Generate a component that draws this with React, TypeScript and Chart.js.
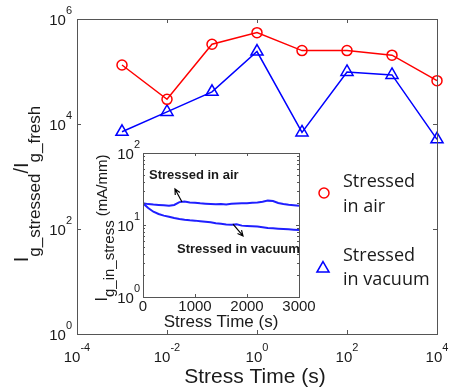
import React, { useEffect, useRef } from 'react';
import { Chart, registerables } from 'chart.js';

Chart.register(...registerables);

// ---------- main plot data ----------
const stressTimes = [1e-3, 1e-2, 1e-1, 1e0, 1e1, 1e2, 1e3, 1e4];
const ratioAir = [1.33e5, 2.95e4, 3.3e5, 5.5e5, 2.5e5, 2.5e5, 2.05e5, 6.7e4];
const ratioVacuum = [7.1e3, 1.7e4, 4.1e4, 2.4e5, 6.9e3, 9.8e4, 8.6e4, 5.1e3];
const mainXTickExps = [-4, -2, 0, 2, 4];
const mainYTickExps = [0, 2, 4, 6];
const legendLabels = [['Stressed', 'in air'], ['Stressed', 'in vacuum']];

// ---------- inset data ----------
const insetTimes = [0, 100, 200, 300, 400, 500, 600, 700, 800, 900, 1000, 1100, 1200, 1300, 1400, 1500,
  1600, 1700, 1800, 1900, 2000, 2100, 2200, 2300, 2400, 2500, 2600, 2700, 2800, 2900, 3000];
const insetAir = [20.0, 19.5, 19.2, 19.0, 18.8, 18.5, 19.0, 20.8, 21.2, 20.6, 20.3, 20.0, 19.8, 19.6, 19.4, 19.5,
  19.3, 19.7, 19.9, 20.1, 20.0, 20.3, 20.6, 21.0, 21.8, 21.5, 20.2, 19.6, 19.1, 18.8, 18.5];
const insetVacuum = [20.0, 17.2, 15.3, 14.2, 13.5, 13.0, 12.5, 12.1, 11.8, 11.6, 11.5, 11.3, 11.1, 10.9, 10.6, 10.4,
  10.2, 10.1, 10.2, 9.8, 9.7, 9.6, 9.5, 9.3, 9.1, 9.0, 8.9, 8.8, 8.7, 8.6, 8.5];
const insetXTicks = [0, 1000, 2000, 3000];
const insetYTickExps = [0, 1, 2];
const insetNotes = ['Stressed in air', 'Stressed in vacuum'];

const SANS = '"Liberation Sans", Arial, sans-serif';
const FRAME = '#555555';
const TEXT = '#1a1a1a';

function drawPow(ctx: CanvasRenderingContext2D, exp: number, x: number, baseline: number, align: 'center' | 'right') {
  const base = '10';
  const sup = String(exp);
  ctx.font = `15px ${SANS}`;
  const wb = ctx.measureText(base).width;
  ctx.font = `11px ${SANS}`;
  const ws = ctx.measureText(sup).width;
  const total = wb + ws;
  const start = align === 'center' ? x - total / 2 : x - total;
  ctx.textAlign = 'left';
  ctx.textBaseline = 'alphabetic';
  ctx.fillStyle = TEXT;
  ctx.font = `15px ${SANS}`;
  ctx.fillText(base, start, baseline);
  ctx.font = `11px ${SANS}`;
  ctx.fillText(sup, start + wb, baseline - 11);
}

type Run = { text: string; size: number; dy: number };

function drawRotatedRuns(ctx: CanvasRenderingContext2D, runs: Run[], baseX: number, cy: number) {
  ctx.save();
  let total = 0;
  const widths = runs.map((r) => {
    ctx.font = `${r.size}px ${SANS}`;
    const w = ctx.measureText(r.text).width;
    total += w;
    return w;
  });
  ctx.translate(baseX, cy);
  ctx.rotate(-Math.PI / 2);
  ctx.fillStyle = TEXT;
  ctx.textAlign = 'left';
  ctx.textBaseline = 'alphabetic';
  let x = -total / 2;
  runs.forEach((r, i) => {
    ctx.font = `${r.size}px ${SANS}`;
    ctx.fillText(r.text, x, r.dy);
    x += widths[i];
  });
  ctx.restore();
}

function drawArrow(ctx: CanvasRenderingContext2D, x1: number, y1: number, x2: number, y2: number) {
  ctx.save();
  ctx.strokeStyle = '#000';
  ctx.lineWidth = 1.2;
  ctx.beginPath();
  ctx.moveTo(x1, y1);
  ctx.lineTo(x2, y2);
  const a = Math.atan2(y2 - y1, x2 - x1);
  const L = 6;
  ctx.moveTo(x2 - L * Math.cos(a - 0.45), y2 - L * Math.sin(a - 0.45));
  ctx.lineTo(x2, y2);
  ctx.lineTo(x2 - L * Math.cos(a + 0.45), y2 - L * Math.sin(a + 0.45));
  ctx.stroke();
  ctx.restore();
}

const mainAxesPlugin = {
  id: 'mainAxes',
  afterDraw(chart: any) {
    const { ctx, chartArea: ca, scales } = chart;
    const xs = scales.x;
    const ys = scales.y;
    ctx.save();
    ctx.strokeStyle = FRAME;
    ctx.lineWidth = 1;
    ctx.strokeRect(Math.round(ca.left) + 0.5, Math.round(ca.top) + 0.5, Math.round(ca.right - ca.left), Math.round(ca.bottom - ca.top));
    const T = 4;
    ctx.beginPath();
    mainXTickExps.forEach((e) => {
      const px = Math.round(xs.getPixelForValue(Math.pow(10, e))) + 0.5;
      ctx.moveTo(px, ca.bottom);
      ctx.lineTo(px, ca.bottom - T);
      ctx.moveTo(px, ca.top);
      ctx.lineTo(px, ca.top + T);
    });
    mainYTickExps.forEach((e) => {
      const py = Math.round(ys.getPixelForValue(Math.pow(10, e))) + 0.5;
      ctx.moveTo(ca.left, py);
      ctx.lineTo(ca.left + T, py);
      ctx.moveTo(ca.right, py);
      ctx.lineTo(ca.right - T, py);
    });
    ctx.stroke();
    mainXTickExps.forEach((e) => {
      drawPow(ctx, e, xs.getPixelForValue(Math.pow(10, e)), ca.bottom + 28, 'center');
    });
    mainYTickExps.forEach((e) => {
      drawPow(ctx, e, ca.left - 5, ys.getPixelForValue(Math.pow(10, e)) + 6, 'right');
    });
    // x title
    ctx.font = `21px ${SANS}`;
    ctx.fillStyle = TEXT;
    ctx.textAlign = 'center';
    ctx.textBaseline = 'alphabetic';
    ctx.fillText('Stress Time (s)', (ca.left + ca.right) / 2 - 2, 383);
    // y title
    drawRotatedRuns(ctx, [
      { text: 'I', size: 20, dy: 0 },
      { text: 'g_stressed', size: 17, dy: 12 },
      { text: '/', size: 20, dy: 0 },
      { text: 'I', size: 20, dy: 0 },
      { text: 'g_fresh', size: 17, dy: 12 },
    ], 28, 184);
    // legend
    ctx.lineWidth = 1.5;
    ctx.strokeStyle = '#ff0000';
    ctx.beginPath();
    ctx.arc(324, 193, 5, 0, Math.PI * 2);
    ctx.stroke();
    ctx.strokeStyle = '#0000ff';
    ctx.beginPath();
    const tr = 7;
    const tcx = 323;
    const tcy = 268.5;
    ctx.moveTo(tcx, tcy - tr);
    ctx.lineTo(tcx + tr * Math.sin(2 * Math.PI / 3), tcy + tr / 2);
    ctx.lineTo(tcx - tr * Math.sin(2 * Math.PI / 3), tcy + tr / 2);
    ctx.closePath();
    ctx.stroke();
    ctx.fillStyle = TEXT;
    ctx.textAlign = 'left';
    ctx.font = '18px "Open Sans", sans-serif';
    ctx.fillText(legendLabels[0][0], 343, 187);
    ctx.fillText(legendLabels[0][1], 343, 212);
    ctx.fillText(legendLabels[1][0], 343, 261);
    ctx.fillText(legendLabels[1][1], 343, 285);
    ctx.restore();
  },
};

const insetAxesPlugin = {
  id: 'insetAxes',
  afterDraw(chart: any) {
    const { ctx, chartArea: ca, scales } = chart;
    const xs = scales.x;
    const ys = scales.y;
    ctx.save();
    ctx.strokeStyle = FRAME;
    ctx.lineWidth = 1;
    ctx.strokeRect(Math.round(ca.left) + 0.5, Math.round(ca.top) + 0.5, Math.round(ca.right - ca.left), Math.round(ca.bottom - ca.top));
    ctx.beginPath();
    insetXTicks.forEach((v) => {
      const px = Math.round(xs.getPixelForValue(v)) + 0.5;
      ctx.moveTo(px, ca.bottom);
      ctx.lineTo(px, ca.bottom - 3);
      ctx.moveTo(px, ca.top);
      ctx.lineTo(px, ca.top + 3);
    });
    for (let e = 0; e < 2; e++) {
      for (let m = 1; m <= 10; m++) {
        const v = m * Math.pow(10, e);
        const py = Math.round(ys.getPixelForValue(v)) + 0.5;
        const len = m === 1 || m === 10 ? 3 : 2;
        ctx.moveTo(ca.left, py);
        ctx.lineTo(ca.left + len, py);
        ctx.moveTo(ca.right, py);
        ctx.lineTo(ca.right - len, py);
      }
    }
    ctx.stroke();
    ctx.fillStyle = TEXT;
    ctx.font = `15px ${SANS}`;
    ctx.textAlign = 'center';
    ctx.textBaseline = 'alphabetic';
    insetXTicks.forEach((v) => {
      ctx.fillText(String(v), xs.getPixelForValue(v), ca.bottom + 14);
    });
    insetYTickExps.forEach((e) => {
      drawPow(ctx, e, ca.left - 3, ys.getPixelForValue(Math.pow(10, e)) + 6, 'right');
    });
    ctx.font = `17px ${SANS}`;
    ctx.textAlign = 'center';
    ctx.fillStyle = TEXT;
    ctx.fillText('Stress Time (s)', (ca.left + ca.right) / 2, 327);
    drawRotatedRuns(ctx, [
      { text: 'I', size: 16, dy: 0 },
      { text: 'g_in_stress', size: 15, dy: 7 },
      { text: ' (mA/mm)', size: 15, dy: 0 },
    ], 107, 228);
    // annotations
    ctx.font = `bold 13px ${SANS}`;
    ctx.textAlign = 'left';
    ctx.fillStyle = TEXT;
    ctx.fillText(insetNotes[0], xs.getPixelForValue(115), ys.getPixelForValue(43.6));
    ctx.fillText(insetNotes[1], xs.getPixelForValue(654), ys.getPixelForValue(4.12));
    drawArrow(ctx, xs.getPixelForValue(750), ys.getPixelForValue(20.9), xs.getPixelForValue(615), ys.getPixelForValue(31.6));
    drawArrow(ctx, xs.getPixelForValue(1731), ys.getPixelForValue(10.3), xs.getPixelForValue(1923), ys.getPixelForValue(7.04));
    ctx.restore();
  },
};

export default function App() {
  const mainRef = useRef<HTMLCanvasElement>(null);
  const insetRef = useRef<HTMLCanvasElement>(null);

  useEffect(() => {
    document.body.style.margin = '0';
    const mainChart = new Chart(mainRef.current as HTMLCanvasElement, {
      type: 'line',
      data: {
        datasets: [
          {
            label: 'Stressed in air',
            data: stressTimes.map((t, i) => ({ x: t, y: ratioAir[i] })),
            borderColor: '#ff0000',
            borderWidth: 1.5,
            pointStyle: 'circle',
            pointRadius: 5,
            pointBorderWidth: 1.5,
            pointBorderColor: '#ff0000',
            pointBackgroundColor: 'rgba(0,0,0,0)',
            tension: 0,
            clip: false,
          } as any,
          {
            label: 'Stressed in vacuum',
            data: stressTimes.map((t, i) => ({ x: t, y: ratioVacuum[i] })),
            borderColor: '#0000ff',
            borderWidth: 1.5,
            pointStyle: 'triangle',
            pointRadius: 7,
            pointBorderWidth: 1.5,
            pointBorderColor: '#0000ff',
            pointBackgroundColor: 'rgba(0,0,0,0)',
            tension: 0,
            clip: false,
          } as any,
        ],
      },
      options: {
        responsive: false,
        animation: false,
        devicePixelRatio: 1,
        layout: { padding: { left: 77, top: 19, right: 12, bottom: 56 } },
        plugins: { legend: { display: false }, tooltip: { enabled: false } },
        events: [],
        scales: {
          x: { type: 'logarithmic', min: 1e-4, max: 1e4, display: false },
          y: { type: 'logarithmic', min: 1, max: 1e6, display: false },
        },
      },
      plugins: [mainAxesPlugin],
    });

    const insetChart = new Chart(insetRef.current as HTMLCanvasElement, {
      type: 'line',
      data: {
        datasets: [
          {
            label: insetNotes[0],
            data: insetTimes.map((t, i) => ({ x: t, y: insetAir[i] })),
            borderColor: '#1f1fff',
            borderWidth: 2,
            pointRadius: 0,
            tension: 0,
          },
          {
            label: insetNotes[1],
            data: insetTimes.map((t, i) => ({ x: t, y: insetVacuum[i] })),
            borderColor: '#1f1fff',
            borderWidth: 2,
            pointRadius: 0,
            tension: 0,
          },
        ],
      },
      options: {
        responsive: false,
        animation: false,
        devicePixelRatio: 1,
        layout: { padding: { left: 143, top: 153, right: 150, bottom: 93 } },
        plugins: { legend: { display: false }, tooltip: { enabled: false } },
        events: [],
        scales: {
          x: { type: 'linear', min: 0, max: 3000, display: false },
          y: { type: 'logarithmic', min: 1, max: 100, display: false },
        },
      },
      plugins: [insetAxesPlugin],
    });

    return () => {
      mainChart.destroy();
      insetChart.destroy();
    };
  }, []);

  return (
    <div style={{ position: 'fixed', left: 0, top: 0, width: 449, height: 390, background: '#fff', overflow: 'hidden' }}>
      <canvas ref={mainRef} width={449} height={390} style={{ position: 'absolute', left: 0, top: 0, width: 449, height: 390 }} />
      <canvas ref={insetRef} width={449} height={390} style={{ position: 'absolute', left: 0, top: 0, width: 449, height: 390 }} />
    </div>
  );
}
